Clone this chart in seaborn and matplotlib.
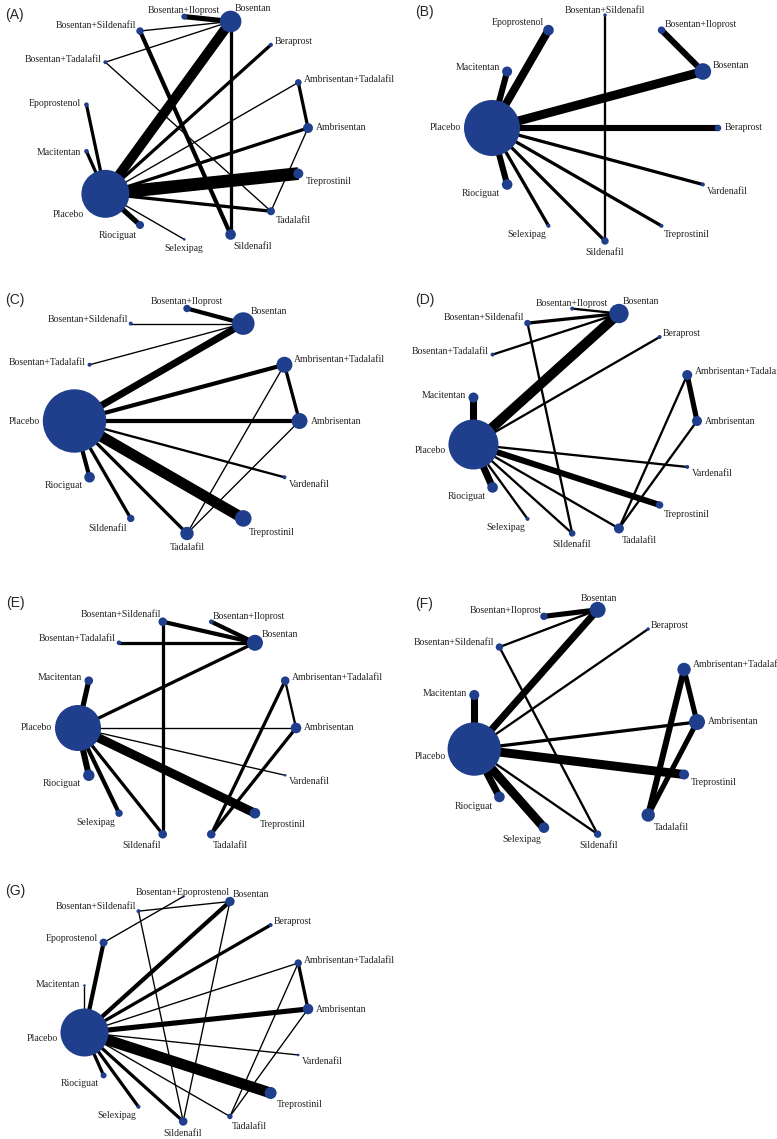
import numpy as np
import pandas as pd
import matplotlib
matplotlib.use('Agg')
import matplotlib.pyplot as plt
import seaborn as sns

sns.set_theme(style='white')
plt.rcParams['font.family'] = ['Liberation Serif', 'DejaVu Serif']

AMB, AMT, BER, BOS = 'Ambrisentan', 'Ambrisentan+Tadalafil', 'Beraprost', 'Bosentan'
BIL, BSI, BTA, BEP = 'Bosentan+Iloprost', 'Bosentan+Sildenafil', 'Bosentan+Tadalafil', 'Bosentan+Epoprostenol'
EPO, MAC, PLA, RIO = 'Epoprostenol', 'Macitentan', 'Placebo', 'Riociguat'
SEL, SIL, TAD, TRE, VAR = 'Selexipag', 'Sildenafil', 'Tadalafil', 'Treprostinil', 'Vardenafil'

# nodes in alphabetical order (circular layout), node size ~ patients, edge ~ number of trials
nodes_A = [AMB, AMT, BER, BOS, BIL, BSI, BTA, EPO, MAC, PLA, RIO, SEL, SIL, TAD, TRE]
size_A = [225, 100, 36, 1050, 81, 123, 36, 48, 48, 5180, 144, 15, 253, 144, 225]
edges_A = [(BIL, BOS, 5), (BSI, BOS, 1), (BTA, BOS, 1), (BSI, SIL, 4), (BTA, TAD, 1),
           (BOS, SIL, 3), (PLA, BOS, 10), (PLA, BER, 3), (PLA, AMT, 1), (PLA, AMB, 3),
           (PLA, TRE, 13), (PLA, TAD, 3), (PLA, RIO, 5), (PLA, SEL, 1), (PLA, EPO, 3),
           (PLA, MAC, 3), (AMT, AMB, 3), (AMB, TAD, 1)]

nodes_B = [BER, BOS, BIL, BSI, EPO, MAC, PLA, RIO, SEL, SIL, TRE, VAR]
size_B = [98, 620, 123, 26, 253, 225, 7056, 253, 36, 123, 36, 36]
edges_B = [(PLA, EPO, 8), (PLA, MAC, 6), (PLA, BOS, 9), (BIL, BOS, 6), (PLA, BER, 6),
           (PLA, VAR, 3), (PLA, TRE, 3), (PLA, SIL, 3), (PLA, SEL, 3), (PLA, RIO, 6),
           (BSI, SIL, 2)]

nodes_C = [AMB, AMT, BOS, BIL, BSI, BTA, PLA, RIO, SIL, TAD, TRE, VAR]
size_C = [576, 576, 1150, 123, 36, 36, 9044, 253, 123, 404, 620, 36]
edges_C = [(BIL, BOS, 4), (BSI, BOS, 1), (BTA, BOS, 1), (PLA, BOS, 7), (PLA, AMT, 4),
           (PLA, AMB, 4), (AMT, AMB, 3), (AMT, TAD, 1), (AMB, TAD, 1), (PLA, VAR, 2),
           (PLA, TRE, 11), (PLA, TAD, 3), (PLA, SIL, 3), (PLA, RIO, 4)]

nodes_D = [AMB, AMT, BER, BOS, BIL, BSI, BTA, MAC, PLA, RIO, SEL, SIL, TAD, TRE, VAR]
size_D = [225, 225, 36, 847, 36, 98, 36, 225, 5625, 253, 36, 98, 225, 123, 36]
edges_D = [(BIL, BOS, 2), (BSI, BOS, 3), (BTA, BOS, 2), (PLA, BOS, 10), (PLA, BER, 2),
           (BSI, SIL, 2), (PLA, MAC, 7), (AMT, AMB, 5), (AMT, TAD, 2), (AMB, TAD, 2),
           (PLA, VAR, 2), (PLA, TRE, 6), (PLA, TAD, 2), (PLA, SIL, 2), (PLA, SEL, 2),
           (PLA, RIO, 7)]

nodes_E = [AMB, AMT, BOS, BIL, BSI, BTA, MAC, PLA, RIO, SEL, SIL, TAD, TRE, VAR]
size_E = [253, 166, 576, 48, 166, 48, 166, 4761, 292, 123, 166, 166, 253, 15]
edges_E = [(BSI, BOS, 4), (BIL, BOS, 4), (BTA, BOS, 3), (BSI, SIL, 3), (PLA, BOS, 3),
           (PLA, MAC, 5), (AMT, AMB, 2), (AMT, TAD, 3), (AMB, TAD, 3), (PLA, AMB, 1),
           (PLA, VAR, 1), (PLA, TRE, 9), (PLA, SIL, 3), (PLA, SEL, 4), (PLA, RIO, 6)]

nodes_F = [AMB, AMT, BER, BOS, BIL, BSI, MAC, PLA, RIO, SEL, SIL, TAD, TRE]
size_F = [576, 404, 26, 576, 123, 123, 225, 6416, 253, 253, 123, 404, 225]
edges_F = [(BIL, BOS, 5), (BSI, BOS, 2), (PLA, BOS, 7), (PLA, BER, 2), (BSI, SIL, 2),
           (PLA, MAC, 7), (AMT, AMB, 5), (AMT, TAD, 6), (AMB, TAD, 5), (PLA, AMB, 3),
           (PLA, TRE, 9), (PLA, SIL, 2), (PLA, SEL, 9), (PLA, RIO, 7)]

nodes_G = [AMB, AMT, BER, BOS, BEP, BSI, EPO, MAC, PLA, RIO, SEL, SIL, TAD, TRE, VAR]
size_G = [253, 123, 36, 199, 15, 36, 144, 15, 5184, 81, 36, 166, 66, 324, 15]
edges_G = [(BEP, EPO, 1), (BSI, BOS, 1), (BSI, SIL, 1), (BOS, SIL, 1), (PLA, BOS, 4),
           (PLA, BER, 3), (PLA, EPO, 4), (PLA, MAC, 1), (PLA, AMT, 1), (AMT, AMB, 3),
           (AMT, TAD, 1), (AMB, TAD, 1), (PLA, AMB, 5), (PLA, VAR, 1), (PLA, TRE, 11),
           (PLA, TAD, 1), (PLA, SIL, 3), (PLA, SEL, 3), (PLA, RIO, 3)]

W, H = 777, 1139
BLUE = '#1f3f8c'
PT = 0.72  # points per pixel at 100 dpi
NMAX = 10000

fig = plt.figure(figsize=(W / 100, H / 100), dpi=100)


def draw_panel(tag, nodes, sizes, edges, cx, cy, R, tx, ty):
    half = 150
    ax = fig.add_axes([(cx - half) / W, 1 - (cy + half) / H, 2 * half / W, 2 * half / H])
    ax.patch.set_visible(False)
    ang = 2 * np.pi * np.arange(len(nodes)) / len(nodes)
    df = pd.DataFrame({'name': nodes, 'x': np.cos(ang), 'y': np.sin(ang), 'n': sizes})
    xy = df.set_index('name')
    for a, b, k in edges:
        ax.plot([xy.loc[a, 'x'], xy.loc[b, 'x']], [xy.loc[a, 'y'], xy.loc[b, 'y']],
                color='black', lw=(0.4 + 0.95 * k) * PT, solid_capstyle='butt', zorder=1)
    sns.scatterplot(data=df, x='x', y='y', size='n', sizes=(0, (2 * PT / 3) ** 2 * NMAX),
                    size_norm=(0, NMAX), color=BLUE, linewidth=0, legend=False, ax=ax, zorder=3)
    for _, r in df.iterrows():
        c, s = np.cos(np.arctan2(r.y, r.x)), np.sin(np.arctan2(r.y, r.x))
        off = (np.sqrt(r.n) / 3 + 3) * PT
        ha = 'left' if c > 0.2 else ('right' if c < -0.2 else 'center')
        va = 'top' if s < -0.3 else 'center'
        ax.annotate(r['name'], (r.x, r.y), xytext=(off * c, off * s), textcoords='offset points',
                    ha=ha, va=va, fontsize=7, color='#222222', annotation_clip=False)
    lim = half / R
    ax.set_xlim(-lim, lim)
    ax.set_ylim(-lim, lim)
    ax.set_axis_off()
    fig.text(tx / W, 1 - ty / H, tag, fontsize=10, family='Liberation Sans', va='center', ha='left')


draw_panel('(A)', nodes_A, size_A, edges_A, 196, 128, 112, 5, 15)
draw_panel('(B)', nodes_B, size_B, edges_B, 605, 128, 113, 415, 12)
draw_panel('(C)', nodes_C, size_C, edges_C, 187, 421, 112.5, 5, 300)
draw_panel('(D)', nodes_D, size_D, edges_D, 584, 421, 113, 415, 300)
draw_panel('(E)', nodes_E, size_E, edges_E, 187, 728, 109, 6, 603)
draw_panel('(F)', nodes_F, size_F, edges_F, 584, 722, 113, 415, 604)
draw_panel('(G)', nodes_G, size_G, edges_G, 195, 1009, 113, 5, 891)

fig.savefig('out.png', dpi=100, facecolor='white')
